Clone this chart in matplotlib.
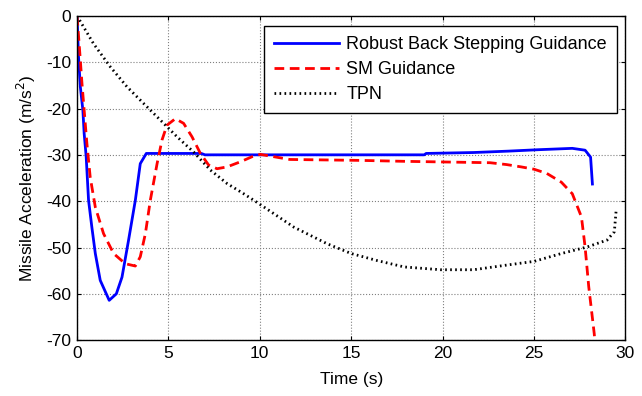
import matplotlib
matplotlib.use("Agg")
import matplotlib.pyplot as plt
import numpy as np

plt.rcParams['font.family'] = ['Liberation Sans', 'DejaVu Sans']
plt.rcParams['axes.unicode_minus'] = False

# Robust Back Stepping Guidance
t_rbs = [0, 0.08, 0.18, 0.32, 0.39, 0.5, 0.63, 0.81, 1.0, 1.27, 1.76, 2.15, 2.46, 2.82,
         3.19, 3.46, 3.79, 6.8, 7.0, 19.0, 19.1, 21.7, 23.6, 25.2, 27.1, 27.8, 28.1, 28.2]
a_rbs = [0, -8.8, -15.3, -20.4, -25.4, -30.4, -39.8, -45.6, -51.3, -57.1, -61.4, -60.0,
         -56.4, -48.4, -39.8, -31.9, -29.7, -29.7, -30.0, -30.0, -29.7, -29.5, -29.2,
         -28.9, -28.6, -29.0, -30.5, -36.3]

# SM Guidance
t_sm = [0, 0.14, 0.27, 0.39, 0.54, 0.72, 1.0, 1.45, 2.0, 2.64, 3.19, 3.46, 3.74, 4.01,
        4.38, 4.65, 4.92, 5.38, 5.83, 6.29, 6.75, 7.2, 7.66, 8.21, 8.94, 9.58, 10.03,
        10.76, 11.64, 15.5, 17.9, 21.0, 22.6, 23.5, 24.3, 25.0, 25.7, 26.5, 27.1, 27.6,
        27.8, 28.0, 28.3, 28.35]
a_sm = [0, -7.4, -14.6, -20.4, -27.6, -34.8, -41.3, -47.0, -51.3, -53.5, -54.0, -52.0,
        -47.0, -39.8, -31.9, -26.8, -23.6, -22.2, -23.2, -26.1, -29.7, -32.2, -33.0,
        -32.6, -31.5, -30.4, -29.9, -30.4, -31.0, -31.2, -31.4, -31.6, -31.7, -32.1,
        -32.6, -33.1, -34.0, -35.9, -38.4, -43.4, -49.9, -58.5, -68.6, -71.0]

# TPN
t_tpn = [0, 0.9, 1.82, 2.73, 3.64, 4.56, 5.47, 6.38, 7.3, 8.21, 9.12, 9.94, 11.86,
         13.69, 15.0, 16.4, 17.9, 19.9, 21.7, 23.5, 25.0, 26.5, 27.9, 29.0, 29.4, 29.5]
a_tpn = [0, -6.0, -11.0, -15.3, -18.9, -22.5, -26.1, -29.4, -33.3, -36.2, -38.4, -40.5,
         -45.6, -49.2, -51.3, -52.8, -54.2, -54.8, -54.8, -53.8, -53.0, -51.3, -49.9,
         -48.4, -46.6, -41.9]

labels = ["Robust Back Stepping Guidance", "SM Guidance", "TPN"]
xticks = [0, 5, 10, 15, 20, 25, 30]
yticks = [0, -10, -20, -30, -40, -50, -60, -70]

fig = plt.figure(figsize=(6.42, 3.96), dpi=100)
ax = fig.add_axes([0.12, 0.141, 0.854, 0.819])

ax.plot(t_rbs, a_rbs, color='#0000ff', lw=2, label=labels[0])
ax.plot(t_sm, a_sm, color='#ff0000', lw=2, ls=(0, (3.5, 2)), label=labels[1])
ax.plot(t_tpn, a_tpn, color='black', lw=2, ls=(0, (0.6, 1.2)), label=labels[2])

ax.set_xlim(0, 30)
ax.set_ylim(-70, 0)
ax.set_xticks(xticks)
ax.set_yticks(yticks)
ax.tick_params(direction='in', top=True, right=True, labelsize=12.5, length=3, pad=4)
ax.grid(True, color='#808080', ls=':', lw=0.8)
for s in ax.spines.values():
    s.set_linewidth(1.0)
ax.set_xlabel("Time (s)", fontsize=12.5, labelpad=8)
ax.set_ylabel("Missile Acceleration (m/s$^2$)", fontsize=12.5, labelpad=6)

leg = ax.legend(loc='upper right', bbox_to_anchor=(617 / 642, 1 - 26 / 396),
                bbox_transform=fig.transFigure, borderaxespad=0, fontsize=13,
                frameon=True, fancybox=False, edgecolor='black', framealpha=1,
                handlelength=3.6, handletextpad=0.4, borderpad=0.55, labelspacing=0.45)
leg.get_frame().set_linewidth(1.0)

fig.savefig("out.png", dpi=100)
